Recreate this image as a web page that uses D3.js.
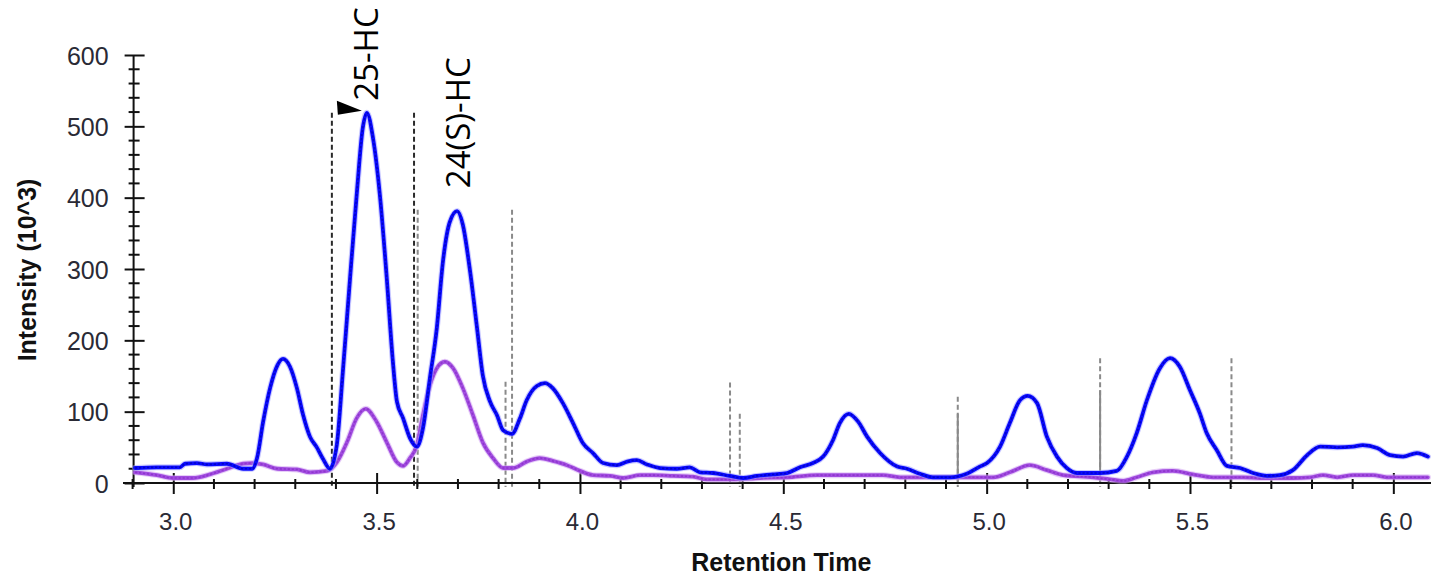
<!DOCTYPE html>
<html>
<head>
<meta charset="utf-8">
<script src="https://cdn.jsdelivr.net/npm/d3@7"></script>
<style>
  html, body { margin: 0; padding: 0; background: #ffffff; }
  svg { display: block; }
</style>
</head>
<body>
<svg id="chart" width="1431" height="577"></svg>
<script>
// ---- Data -----------------------------------------------------------
// Retention time (min) and intensity (x10^3) of the quantifier trace (blue)
const quantTimes = [2.906, 2.960, 3.016, 3.029, 3.058, 3.083, 3.132, 3.172, 3.194, 3.206,
  3.221, 3.238, 3.256, 3.270, 3.287, 3.304, 3.319, 3.336, 3.353, 3.368,
  3.385, 3.402, 3.417, 3.434, 3.451, 3.466, 3.476, 3.491, 3.508, 3.525,
  3.540, 3.550, 3.565, 3.582, 3.599, 3.614, 3.631, 3.648, 3.663, 3.680,
  3.698, 3.712, 3.730, 3.747, 3.761, 3.779, 3.796, 3.811, 3.833, 3.852,
  3.869, 3.894, 3.914, 3.933, 3.958, 3.983, 4.007, 4.032, 4.057, 4.091,
  4.116, 4.140, 4.165, 4.197, 4.238, 4.270, 4.295, 4.327, 4.368, 4.401,
  4.435, 4.474, 4.509, 4.541, 4.573, 4.598, 4.622, 4.639, 4.661, 4.684,
  4.706, 4.738, 4.780, 4.804, 4.836, 4.868, 4.910, 4.951, 4.983, 5.001,
  5.033, 5.057, 5.082, 5.101, 5.124, 5.148, 5.173, 5.197, 5.222, 5.278,
  5.320, 5.345, 5.369, 5.394, 5.426, 5.451, 5.475, 5.500, 5.524, 5.541,
  5.566, 5.591, 5.623, 5.655, 5.689, 5.721, 5.753, 5.788, 5.820, 5.862,
  5.901, 5.925, 5.960, 5.992, 6.024, 6.058, 6.085];
const quantValues = [21, 22, 22, 27, 28, 26, 27, 20, 20, 35,
  86, 133, 165, 174, 163, 133, 96, 65, 50, 34,
  20, 53, 156, 282, 404, 498, 519, 484, 404, 287,
  170, 114, 91, 63, 51, 77, 147, 217, 310, 366,
  381, 362, 296, 217, 151, 114, 95, 74, 69, 90,
  116, 136, 140, 133, 112, 84, 56, 42, 28, 25,
  30, 32, 26, 21, 20, 22, 15, 14, 10, 7,
  10, 12, 14, 22, 28, 37, 60, 84, 97, 86,
  65, 42, 23, 20, 13, 8, 8, 13, 23, 28,
  51, 84, 116, 122, 112, 65, 37, 21, 14, 14,
  17, 37, 70, 116, 161, 175, 163, 130, 98, 70,
  46, 24, 21, 14, 10, 11, 18, 39, 51, 50,
  51, 53, 49, 39, 37, 42, 37];

// Retention time (min) and intensity (x10^3) of the qualifier trace (purple)
const qualTimes = [2.906, 2.960, 2.999, 3.048, 3.090, 3.132, 3.172, 3.196, 3.221, 3.256,
  3.304, 3.336, 3.378, 3.402, 3.427, 3.451, 3.473, 3.500, 3.525, 3.550,
  3.565, 3.582, 3.599, 3.614, 3.631, 3.648, 3.668, 3.688, 3.712, 3.737,
  3.761, 3.786, 3.811, 3.835, 3.869, 3.901, 3.933, 3.968, 4.000, 4.032,
  4.074, 4.106, 4.148, 4.180, 4.229, 4.278, 4.312, 4.376, 4.443, 4.509,
  4.583, 4.664, 4.745, 4.787, 4.868, 4.934, 5.016, 5.057, 5.106, 5.148,
  5.188, 5.262, 5.304, 5.336, 5.369, 5.409, 5.458, 5.507, 5.557, 5.630,
  5.672, 5.753, 5.795, 5.827, 5.862, 5.901, 5.950, 5.984, 6.085];
const qualValues = [15, 11, 7, 7, 12, 20, 27, 28, 26, 20,
  19, 15, 17, 29, 57, 91, 104, 86, 57, 29,
  24, 35, 53, 95, 137, 161, 170, 161, 133, 95,
  57, 35, 21, 21, 30, 35, 31, 25, 17, 11,
  10, 7, 11, 11, 10, 9, 5, 5, 7, 8,
  11, 11, 11, 8, 8, 8, 8, 15, 25, 18,
  11, 8, 5, 3, 8, 15, 17, 12, 8, 8,
  7, 7, 8, 11, 8, 11, 11, 8, 8];

// Integration boundaries: time, height (x10^3) and whether they belong to the selected peak
const boundaryTimes    = [3.390, 3.592, 3.601, 3.817, 3.833, 4.369, 4.393, 4.929, 5.279, 5.602];
const boundaryHeights  = [519, 519, 383, 142, 383, 141, 97, 121, 175, 175];
const boundarySelected = [true, true, false, false, false, false, false, false, false, false];
// Drop lines shared by neighbouring peaks
const dropTimes   = [4.929, 5.279];
const dropHeights = [97, 130];

// Peak annotations
const peakNames  = ["25-HC", "24(S)-HC"];
const peakTimes  = [3.476, 3.698];
const peakHeights = [519, 381];
const selectedPeak = 0;

// Axes
const xTickValues = [3.0, 3.5, 4.0, 4.5, 5.0, 5.5, 6.0];
const yTickValues = [0, 100, 200, 300, 400, 500, 600];
const xTitle = "Retention Time";
const yTitle = "Intensity (10^3)";

// ---- Drawing --------------------------------------------------------
const svg = d3.select("#chart");

const x = d3.scaleLinear().domain([2.9, 6.1]).range([132.6, 1434]);
const y = d3.scaleLinear().domain([0, 600]).range([483, 55]);

const axisColor = "#111";
const labelColor = "#2a2a35";

// Integration boundary lines (behind traces)
const bnd = svg.append("g");
boundaryTimes.forEach((t, i) => {
  bnd.append("line")
    .attr("x1", x(t)).attr("x2", x(t))
    .attr("y1", y(boundaryHeights[i])).attr("y2", y(0) + 4)
    .attr("stroke", boundarySelected[i] ? "#2a2a2a" : "#8a8a8a")
    .attr("stroke-width", 2)
    .attr("stroke-dasharray", "5 3");
});
dropTimes.forEach((t, i) => {
  bnd.append("line")
    .attr("x1", x(t)).attr("x2", x(t))
    .attr("y1", y(dropHeights[i])).attr("y2", y(0))
    .attr("stroke", "#8a8a8a")
    .attr("stroke-width", 2);
});

// Axes
const xAxis = d3.axisBottom(x).tickValues(xTickValues)
  .tickFormat(d3.format(".1f")).tickSize(11).tickPadding(0);
const gx = svg.append("g").attr("transform", `translate(0,${y(0)})`).call(xAxis);
gx.select(".domain").remove();
gx.selectAll(".tick line").attr("y1", -10).attr("stroke", axisColor).attr("stroke-width", 2);
gx.selectAll(".tick text")
  .attr("x", 2).attr("y", 47).attr("dy", null)
  .attr("fill", labelColor)
  .style("font-family", "'Liberation Sans', Arial, sans-serif")
  .style("font-size", "24px");

const xMinor = d3.range(2.9, 6.1001, 0.1).filter(v => Math.abs(v * 2 - Math.round(v * 2)) > 0.01);
svg.append("g").selectAll("line").data(xMinor).join("line")
  .attr("x1", d => x(d)).attr("x2", d => x(d))
  .attr("y1", y(0) - 4).attr("y2", y(0) + 6)
  .attr("stroke", axisColor).attr("stroke-width", 2);

svg.append("line")
  .attr("x1", 123).attr("x2", 1431)
  .attr("y1", y(0)).attr("y2", y(0))
  .attr("stroke", axisColor).attr("stroke-width", 2);

const yAxis = d3.axisLeft(y).tickValues(yTickValues).tickSize(9).tickPadding(0);
const gy = svg.append("g").attr("transform", `translate(${x(2.9) + 1},0)`).call(yAxis);
gy.select(".domain").remove();
gy.selectAll(".tick line").attr("x1", 11).attr("stroke", axisColor).attr("stroke-width", 2);
gy.selectAll(".tick text")
  .attr("x", -25).attr("dy", "0.36em")
  .attr("fill", labelColor)
  .style("font-family", "'Liberation Sans', Arial, sans-serif")
  .style("font-size", "25px");

const yMinor = d3.range(0, 600, 20).filter(v => v % 100 !== 0);
svg.append("g").selectAll("line").data(yMinor).join("line")
  .attr("x1", x(2.9) + 1 - 5).attr("x2", x(2.9) + 1 + 6)
  .attr("y1", d => y(d)).attr("y2", d => y(d))
  .attr("stroke", axisColor).attr("stroke-width", 2);

svg.append("line")
  .attr("x1", x(2.9) + 1).attr("x2", x(2.9) + 1)
  .attr("y1", y(600)).attr("y2", y(0) + 4)
  .attr("stroke", axisColor).attr("stroke-width", 2);

// Axis titles
svg.append("text")
  .attr("x", x(4.5) - 2).attr("y", 571)
  .attr("text-anchor", "middle")
  .attr("fill", "#111")
  .style("font-family", "'Liberation Sans', Arial, sans-serif")
  .style("font-weight", "bold")
  .style("font-size", "25px")
  .text(xTitle);

svg.append("text")
  .attr("transform", `translate(36,${y(300) + 1}) rotate(-90)`)
  .attr("text-anchor", "middle")
  .attr("fill", "#111")
  .style("font-family", "'Liberation Sans', Arial, sans-serif")
  .style("font-weight", "bold")
  .style("font-size", "25px")
  .text(yTitle);

// Traces
function drawTrace(times, values, halo, core, dots) {
  const pts = times.map((t, i) => [t, values[i]]);
  const line = d3.line().x(d => x(d[0])).y(d => y(d[1])).curve(d3.curveMonotoneX);
  const g = svg.append("g").attr("fill", "none")
    .attr("stroke-linejoin", "round").attr("stroke-linecap", "round");
  g.append("path").attr("d", line(pts)).attr("stroke", halo).attr("stroke-width", 6).attr("opacity", 0.55);
  g.append("path").attr("d", line(pts)).attr("stroke", core).attr("stroke-width", 3.8);
  g.append("path").attr("d", line(pts)).attr("stroke", dots).attr("stroke-width", 1.6)
    .attr("stroke-dasharray", "2.2 1.8").attr("stroke-linecap", "butt").attr("opacity", 0.8);
}
drawTrace(qualTimes, qualValues, "#d4a8f2", "#a24de0", "#8a2fc8");
drawTrace(quantTimes, quantValues, "#9a9aff", "#0a0aff", "#0000b8");

// Peak labels
const labelOffsets = [[11, -12], [13, -23]];
peakNames.forEach((name, i) => {
  const px = x(peakTimes[i]) + labelOffsets[i][0];
  const py = y(peakHeights[i]) + labelOffsets[i][1];
  svg.append("text")
    .attr("transform", `translate(${px},${py}) rotate(-90)`)
    .attr("fill", "#000")
    .style("font-family", "'Open Sans', sans-serif")
    .style("font-size", "33px")
    .text(name);
});

// Selected-peak marker
const mx = x(peakTimes[selectedPeak]);
const my = y(peakHeights[selectedPeak]);
svg.append("path")
  .attr("d", `M${mx - 30},${my - 12} L${mx - 29},${my + 2} L${mx - 5},${my - 2} Z`)
  .attr("fill", "#000");
</script>
</body>
</html>
